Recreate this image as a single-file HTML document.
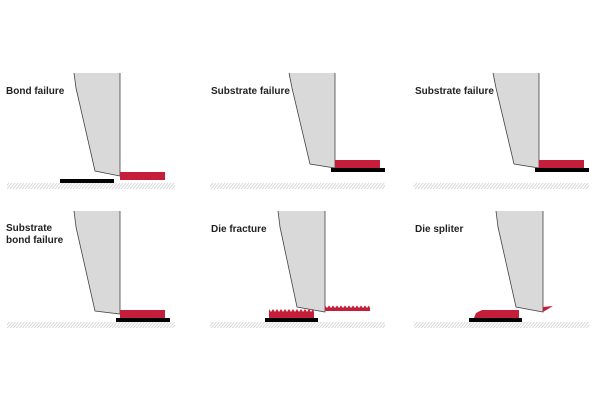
<!DOCTYPE html>
<html><head><style>
body{margin:0;background:#fff;}
svg{display:block}
text{font-family:"Liberation Sans",sans-serif;font-size:10px;font-weight:bold;fill:#222}
</style></head><body>
<svg width="600" height="400" viewBox="0 0 600 400" xmlns="http://www.w3.org/2000/svg">
<defs>
<pattern id="h" width="3" height="6" patternUnits="userSpaceOnUse" patternTransform="skewX(-40)">
<rect width="1.2" height="6" fill="#d4d4d4"/>
</pattern>
</defs>
<g fill="#d9d9d9">
<polygon points="74,73 120,73 120,176 95,171 76,88"/>
<polygon points="289,73 335,73 335,168 310,164 292,88"/>
<polygon points="493,73 539,73 539,168 514,164 496,88"/>
<polygon points="74,211 120,211 120,314 95,311 76,227"/>
<polygon points="278,211 325,211 325,312 297,307 280,227"/>
<polygon points="496,211 543,211 543,312 516,307 498,227"/>
</g>
<g stroke="#444" stroke-width="0.8" fill="none">
<polyline points="74,73 76,88 95,171 120,176 120,73"/>
<polyline points="289,73 292,88 310,164 335,168 335,73"/>
<polyline points="493,73 496,88 514,164 539,168 539,73"/>
<polyline points="74,211 76,227 95,311 120,314 120,211"/>
<polyline points="278,211 280,227 297,307 325,312 325,211"/>
<polyline points="496,211 498,227 516,307 543,312 543,211"/>
</g>
<g fill="url(#h)">
<rect x="7" y="183" width="168" height="6"/>
<rect x="210" y="183" width="175" height="6"/>
<rect x="414" y="183" width="175" height="6"/>
<rect x="7" y="322" width="168" height="6"/>
<rect x="210" y="322" width="175" height="6"/>
<rect x="414" y="322" width="175" height="6"/>
</g>
<g fill="#c41e3a">
<rect x="120" y="172" width="45" height="8"/>
<rect x="335" y="160" width="45" height="8"/>
<rect x="539" y="160" width="45" height="8"/>
<rect x="120" y="310" width="45" height="8"/>
<rect x="269" y="312" width="45" height="6"/>
<polygon points="269,312 269,309 271,312 273,309 275,312 277,309 279,312 281,309 283,312 285,309 287,312 289,309 291,312 293,309 295,312 297,309 299,312 301,309 303,312 305,309 307,312 309,309 311,312 313,309 314,312"/>
<rect x="325" y="308" width="45" height="3"/>
<polygon points="325,308 325,305.5 327,308 329,305.5 331,308 333,305.5 335,308 337,305.5 339,308 341,305.5 343,308 345,305.5 347,308 349,305.5 351,308 353,305.5 355,308 357,305.5 359,308 361,305.5 363,308 365,305.5 367,308 369,305.5 370,308"/>
<polygon points="474,318 476,313 482,310 519,310 519,318"/>
<polygon points="543,307 553,306 543,312"/>
</g>
<g fill="#000">
<rect x="60" y="179" width="54" height="4"/>
<rect x="331" y="168" width="54" height="4"/>
<rect x="535" y="168" width="54" height="4"/>
<rect x="116" y="318" width="54" height="4"/>
<rect x="265" y="318" width="53" height="4"/>
<rect x="469" y="318" width="53" height="4"/>
</g>
<text x="6" y="94">Bond failure</text>
<text x="211" y="94">Substrate failure</text>
<text x="415" y="94">Substrate failure</text>
<text x="6" y="231">Substrate</text>
<text x="6" y="243">bond failure</text>
<text x="211" y="232">Die fracture</text>
<text x="415" y="232">Die spliter</text>
</svg>
</body></html>
